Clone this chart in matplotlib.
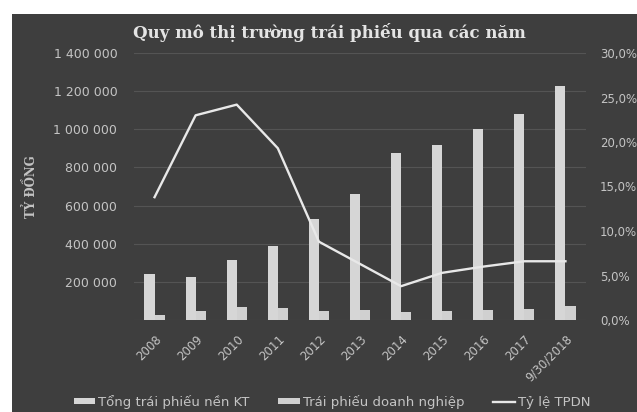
import matplotlib
matplotlib.use("Agg")
import matplotlib.pyplot as plt
from matplotlib.patches import Rectangle
from matplotlib.ticker import FuncFormatter, MultipleLocator
import numpy as np

categories = ["2008", "2009", "2010", "2011", "2012", "2013", "2014", "2015", "2016", "2017", "9/30/2018"]
total_bonds = [241000, 225000, 315000, 388000, 530000, 663000, 878000, 920000, 1003000, 1081000, 1228000]
corp_bonds = [25000, 45000, 70000, 65000, 45000, 50000, 40000, 45000, 55000, 60000, 75000]
corp_ratio = [13.8, 23.0, 24.2, 19.3, 8.8, 6.3, 3.8, 5.3, 6.0, 6.6, 6.6]

title = "Quy mô thị trường trái phiếu qua các năm"
ylabel = "TỶ ĐỒNG"
legend_labels = ["Tổng trái phiếu nền KT", "Trái phiếu doanh nghiệp", "Tỷ lệ TPDN"]

W, H = 637, 412
fig = plt.figure(figsize=(W / 100, H / 100), dpi=100)
fig.patch.set_facecolor("white")
bg = "#3e3e3e"
rect = Rectangle((12 / W, 0), 1 - 12 / W, 1 - 14 / H, transform=fig.transFigure,
                 facecolor=bg, edgecolor="none", zorder=-10)
fig.add_artist(rect)

ax = fig.add_axes([134 / W, 1 - 320 / H, 452 / W, 267 / H])
ax.set_facecolor(bg)
ax2 = ax.twinx()

x = np.arange(len(categories))
bw = 0.245
txt = "#c4c4c4"
barc = "#d6d6d6"
ax.bar(x - bw / 2, total_bonds, width=bw, color=barc, zorder=3, label=legend_labels[0])
ax.bar(x + bw / 2, corp_bonds, width=bw, color="#d0d0d0", zorder=3, label=legend_labels[1])
ax.set_ylim(0, 1400000)
ax.set_xlim(-0.5, len(categories) - 0.5)
ax.yaxis.set_major_locator(MultipleLocator(200000))
ax.yaxis.set_major_formatter(FuncFormatter(lambda v, p: "" if v == 0 else f"{int(v):,}".replace(",", " ")))
ax.grid(axis="y", color="#545454", linewidth=0.8, zorder=1)
for s in ax.spines.values():
    s.set_visible(False)
for s in ax2.spines.values():
    s.set_visible(False)
ax.tick_params(axis="y", length=0, colors=txt, labelsize=9, pad=12)
ax.tick_params(axis="x", length=0, colors=txt, labelsize=8.5, pad=9)
ax.set_xticks(x)
ax.set_xticklabels(categories, rotation=45, ha="right", rotation_mode="anchor")
ax.set_ylabel(ylabel, color=txt, fontsize=8.5, fontweight="bold", family="DejaVu Serif")
ax.yaxis.set_label_coords((38 - 134) / 452, 0.5)

line, = ax2.plot(x, corp_ratio, color="#e8e8e8", linewidth=1.7, zorder=4, label=legend_labels[2])
ax2.set_ylim(0, 30)
ax2.yaxis.set_major_locator(MultipleLocator(5))
ax2.yaxis.set_major_formatter(FuncFormatter(lambda v, p: f"{v:.1f}%".replace(".", ",")))
ax2.tick_params(axis="y", length=0, colors=txt, labelsize=8.5, pad=10)

fig.text(329 / W, 1 - 32 / H, title, color="#e4e4e4", fontsize=12, fontweight="bold",
         ha="center", va="center", family="DejaVu Serif")

h1, l1 = ax.get_legend_handles_labels()
h2, l2 = ax2.get_legend_handles_labels()
leg = fig.legend(h1 + h2, l1 + l2, loc="center", bbox_to_anchor=(332 / W, 1 - 402 / H),
                 ncol=3, frameon=False, fontsize=9.5, labelcolor=txt, handlelength=1.6,
                 handletextpad=0.25, columnspacing=2.2, handleheight=0.35)

fig.savefig("out.png", dpi=100, facecolor=fig.get_facecolor())
